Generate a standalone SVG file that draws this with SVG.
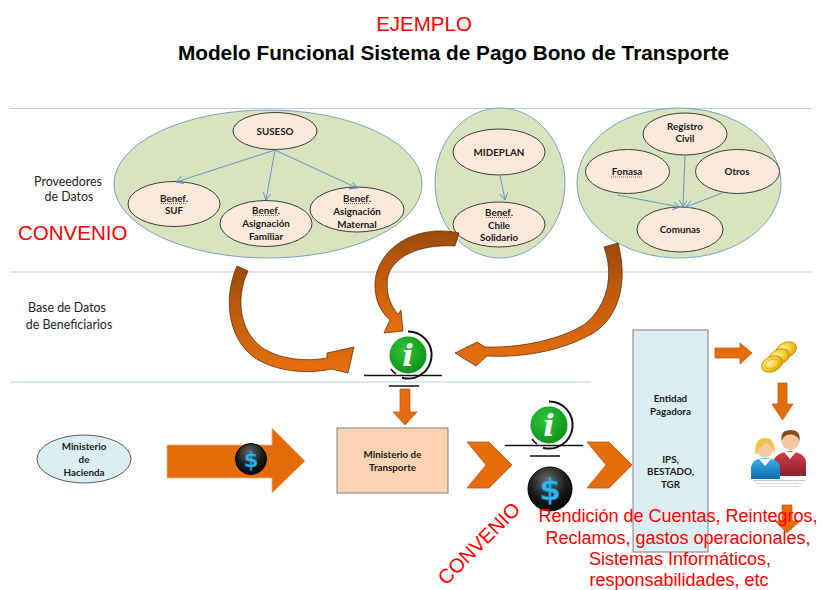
<svg xmlns="http://www.w3.org/2000/svg" width="822" height="590" viewBox="0 0 822 590">
  <style>
    .sep { stroke: #b9cde5; stroke-width: 1.2; }
    .group { fill: #d7e4bd; stroke: #7f9fc5; stroke-width: 1; }
    .entity { fill: #fde9d9; stroke: #3f3f3f; stroke-width: 1; }
    .lbl { font-family: Lato, "Liberation Sans", sans-serif; font-weight: bold; font-size: 9.8px; fill: #1a1a1a; text-anchor: middle; }
    .layer { font-family: Lato, "Liberation Sans", sans-serif; font-size: 12.4px; fill: #222; text-anchor: middle; }
    .red { font-family: "Liberation Sans", Arial, sans-serif; fill: #ff0000; }
    .link { stroke: #5b8cc8; stroke-width: 0.9; fill: none; marker-end: url(#vhead); }
    .block { fill: #e46c0a; stroke: #c55a11; stroke-width: 0.8; }
    .curve { fill: url(#curveGrad); stroke: #4a2405; stroke-width: 0.7; }
    .squig { stroke: #e02020; stroke-width: 0.8; stroke-dasharray: 1 1; fill: none; }
  </style>
  <defs>
    <marker id="vhead" markerUnits="userSpaceOnUse" markerWidth="10" markerHeight="10" refX="7" refY="4" orient="auto">
      <path d="M0,0 L7,4 L0,8" fill="none" stroke="#5b8cc8" stroke-width="0.9"/>
    </marker>
    <linearGradient id="curveGrad" x1="0" y1="0" x2="0" y2="1">
      <stop offset="0" stop-color="#9c4a0c"/>
      <stop offset="0.45" stop-color="#c25c0d"/>
      <stop offset="1" stop-color="#e8700c"/>
    </linearGradient>
    <radialGradient id="infoGreen" cx="0.4" cy="0.35" r="0.7">
      <stop offset="0" stop-color="#33c43a"/>
      <stop offset="1" stop-color="#078f18"/>
    </radialGradient>
    <radialGradient id="coinBlack" cx="0.45" cy="0.3" r="0.75">
      <stop offset="0" stop-color="#6a6a6a"/>
      <stop offset="0.55" stop-color="#1c1c1c"/>
      <stop offset="1" stop-color="#000"/>
    </radialGradient>
    <radialGradient id="gold" cx="0.4" cy="0.35" r="0.7">
      <stop offset="0" stop-color="#fff2a0"/>
      <stop offset="0.6" stop-color="#f5cc2a"/>
      <stop offset="1" stop-color="#d39a0a"/>
    </radialGradient>
    <linearGradient id="blueShirt" x1="0" y1="0" x2="0" y2="1">
      <stop offset="0" stop-color="#3fb0ec"/>
      <stop offset="1" stop-color="#0d6aa8"/>
    </linearGradient>
    <linearGradient id="redShirt" x1="0" y1="0" x2="0" y2="1">
      <stop offset="0" stop-color="#d0404c"/>
      <stop offset="1" stop-color="#8e1f2a"/>
    </linearGradient>

    <!-- information badge: green disc, outer arc and base lines -->
    <g id="infoBadge">
      <path d="M 0,-23.5 A 23.5 23.5 0 1 1 -6,22.7" fill="none" stroke="#111" stroke-width="2"/>
      <path d="M -17,14 A 23 23 0 0 0 -12,19" fill="none" stroke="#111" stroke-width="1.6"/>
      <circle r="19.5" fill="url(#infoGreen)" stroke="#fff" stroke-width="2"/>
      <text x="0" y="11" font-family="'DejaVu Serif', serif" font-weight="bold" font-style="italic" font-size="30" fill="#fff" text-anchor="middle">i</text>
      <line x1="-44" y1="20.5" x2="34" y2="20.5" stroke="#111" stroke-width="1.5"/>
      <line x1="-19" y1="31" x2="11" y2="31" stroke="#111" stroke-width="1.5"/>
    </g>
  </defs>

  <rect width="822" height="590" fill="#ffffff"/>

  <!-- headings -->
  <text class="red" x="424" y="31" font-size="20.5" text-anchor="middle">EJEMPLO</text>
  <text x="453.5" y="60" font-family="'Liberation Sans', Arial, sans-serif" font-weight="bold" font-size="20.8" fill="#000" text-anchor="middle">Modelo Funcional Sistema de Pago Bono de Transporte</text>

  <!-- layer separators -->
  <line class="sep" x1="10" y1="108.5" x2="812" y2="108.5"/>
  <line class="sep" x1="10" y1="272" x2="812" y2="272"/>
  <line class="sep" x1="10" y1="382" x2="591" y2="382"/>

  <!-- layer labels -->
  <text class="layer" x="68" y="186">Proveedores</text>
  <text class="layer" x="69" y="201">de Datos</text>
  <text class="red" x="18" y="240" font-size="20.5">CONVENIO</text>
  <text class="layer" x="67" y="312">Base de Datos</text>
  <text class="layer" x="69" y="329">de Beneficiarios</text>

  <!-- data providers -->
  <g id="grupo-suseso">
    <ellipse class="group" cx="268" cy="184" rx="154" ry="74"/>
  </g>
  <g id="grupo-mideplan">
    <ellipse class="group" cx="500" cy="183" rx="65" ry="75"/>
  </g>
  <g id="grupo-registro">
    <ellipse class="group" cx="679" cy="183" rx="102" ry="75"/>
  </g>

  <g id="suseso">
    <ellipse class="entity" cx="275" cy="131" rx="42" ry="18.5"/>
    <text class="lbl" x="275" y="134.5">SUSESO</text>
  </g>
  <g id="benef-suf">
    <ellipse class="entity" cx="174" cy="204" rx="46" ry="22.5"/>
    <text class="lbl" x="174" y="201.5">Benef.</text>
    <text class="lbl" x="174" y="214">SUF</text>
    <path class="squig" d="M161,203.5 H187"/>
  </g>
  <g id="benef-asig-familiar">
    <ellipse class="entity" cx="266" cy="223.5" rx="46" ry="23"/>
    <text class="lbl" x="266" y="213.5">Benef.</text>
    <text class="lbl" x="266" y="227">Asignación</text>
    <text class="lbl" x="266" y="240">Familiar</text>
    <path class="squig" d="M253,215.5 H279"/>
  </g>
  <g id="benef-asig-maternal">
    <ellipse class="entity" cx="357" cy="209.5" rx="47" ry="22.5"/>
    <text class="lbl" x="357" y="201.5">Benef.</text>
    <text class="lbl" x="357" y="214.5">Asignación</text>
    <text class="lbl" x="357" y="227.5">Maternal</text>
    <path class="squig" d="M344,203.5 H370"/>
  </g>
  <g id="mideplan">
    <ellipse class="entity" cx="499" cy="152" rx="46" ry="23"/>
    <text class="lbl" x="499" y="155.5">MIDEPLAN</text>
  </g>
  <g id="benef-chile-solidario">
    <ellipse class="entity" cx="499" cy="224.5" rx="46" ry="22.5"/>
    <text class="lbl" x="499" y="215.5">Benef.</text>
    <text class="lbl" x="499" y="228.5">Chile</text>
    <text class="lbl" x="499" y="241">Solidario</text>
    <path class="squig" d="M486,217.5 H512"/>
  </g>
  <g id="registro-civil">
    <ellipse class="entity" cx="685" cy="134" rx="42" ry="21"/>
    <text class="lbl" x="685" y="129.5">Registro</text>
    <text class="lbl" x="685" y="142">Civil</text>
  </g>
  <g id="fonasa">
    <ellipse class="entity" cx="627.5" cy="171.5" rx="42" ry="22"/>
    <text class="lbl" x="627" y="175">Fonasa</text>
    <path class="squig" d="M611,177 H643"/>
  </g>
  <g id="otros">
    <ellipse class="entity" cx="737.5" cy="171.5" rx="42" ry="22"/>
    <text class="lbl" x="737" y="175">Otros</text>
  </g>
  <g id="comunas">
    <ellipse class="entity" cx="680" cy="229.5" rx="43" ry="22.5"/>
    <text class="lbl" x="680" y="233">Comunas</text>
  </g>

  <!-- beneficiary data base -->
  <g id="info-base">
    <use href="#infoBadge" x="408" y="355"/>
  </g>

  <!-- payment flow -->
  <g id="ministerio-hacienda">
    <ellipse cx="84" cy="459" rx="47" ry="24" fill="#dbeef4" stroke="#595959" stroke-width="1"/>
    <text class="lbl" x="84" y="450">Ministerio</text>
    <text class="lbl" x="84" y="463">de</text>
    <text class="lbl" x="84" y="476">Hacienda</text>
  </g>
  <g id="ministerio-transporte">
    <rect x="337" y="428" width="111" height="65" fill="#fbd4b4" stroke="#7f7f7f" stroke-width="1"/>
    <text class="lbl" x="392.5" y="458">Ministerio de</text>
    <text class="lbl" x="392.5" y="471">Transporte</text>
  </g>
  <g id="info-pago">
    <use href="#infoBadge" x="549" y="425"/>
  </g>
  <g id="dolar-pago">
    <circle cx="550" cy="489" r="22" fill="url(#coinBlack)" stroke="#000" stroke-width="1"/>
    <text x="550" y="500" font-family="'DejaVu Sans', sans-serif" font-weight="bold" font-size="31" fill="#2fb6ec" stroke="#0b73a8" stroke-width="0.6" text-anchor="middle">$</text>
  </g>
  <g id="entidad-pagadora">
    <rect x="633" y="330" width="75" height="222" fill="#dbeef4" stroke="#7f7f7f" stroke-width="1"/>
    <text class="lbl" x="670.5" y="402" font-size="9.2">Entidad</text>
    <text class="lbl" x="670.5" y="415" font-size="9.2">Pagadora</text>
    <text class="lbl" x="670.5" y="463" font-size="9.2">IPS,</text>
    <text class="lbl" x="670.5" y="475" font-size="9.2">BESTADO,</text>
    <text class="lbl" x="670.5" y="488" font-size="9.2">TGR</text>
  </g>
  <g id="monedas">
    <ellipse cx="786" cy="350" rx="11" ry="7.5" transform="rotate(-25 786 350)" fill="url(#gold)" stroke="#c48a08" stroke-width="0.8"/>
    <ellipse cx="779" cy="357" rx="11" ry="7.5" transform="rotate(-25 779 357)" fill="url(#gold)" stroke="#c48a08" stroke-width="0.8"/>
    <ellipse cx="772" cy="364" rx="11" ry="7.5" transform="rotate(-25 772 364)" fill="url(#gold)" stroke="#c48a08" stroke-width="0.8"/>
    <ellipse cx="772" cy="364" rx="7" ry="4.5" transform="rotate(-25 772 364)" fill="none" stroke="#d9a515" stroke-width="0.7"/>
  </g>
  <g id="beneficiarios">
    <!-- man behind -->
    <path d="M773,476 V463 Q774,453 790,451 Q806,453 806,463 V476 Z" fill="url(#redShirt)"/>
    <path d="M784,452 L790,459 L796,452 Z" fill="#fff"/>
    <circle cx="790.5" cy="441" r="9" fill="#f6c6a0"/>
    <path d="M781.5,441 Q780,430 790.5,430 Q801,430 799.5,441 Q797,434 790.5,434.5 Q784,434 781.5,441 Z" fill="#8a4a1e"/>
    <!-- woman in front -->
    <path d="M751,479 V467 Q752,459 765,458 Q779,459 780,467 V479 Z" fill="url(#blueShirt)"/>
    <path d="M759,459 L765,466 L771,459 Z" fill="#fff"/>
    <circle cx="765" cy="449" r="8.5" fill="#f8cba6"/>
    <path d="M755.5,455 Q754,438 765,438 Q776,438 774.5,455 Q773,445 766,443 Q760,446 758,452 Z" fill="#f2c24b"/>
    <!-- floor reflection -->
    <rect x="753" y="480" width="52" height="1.2" fill="#c8c8c8"/>
    <rect x="756" y="483" width="46" height="1" fill="#d8d8d8"/>
    <rect x="760" y="486" width="38" height="1" fill="#e4e4e4"/>
  </g>

  <!-- connectors -->
  <g id="conectores">
    <line class="link" x1="275" y1="150" x2="176" y2="182"/>
    <line class="link" x1="275" y1="150" x2="266" y2="200"/>
    <line class="link" x1="275" y1="150" x2="357" y2="188"/>
    <line class="link" x1="500" y1="175" x2="505" y2="200"/>
    <line class="link" x1="685" y1="155" x2="683" y2="207"/>
    <line class="link" x1="617" y1="195" x2="680" y2="207"/>
    <line class="link" x1="722" y1="193" x2="686" y2="207"/>

    <!-- curved flows into the beneficiary base -->
    <path class="curve" d="M237,266 C222,300 228,345 262,362 C282,372 310,374 331,369 L348,373 L354,347 L327,353 L327,358 C305,362 282,359 266,350 C241,336 234,300 248,271 Z"/>
    <path class="curve" d="M459,233 C425,225 385,240 376,275 C372,295 380,312 390,320 L384,333 L403,331 L401,310 L398,314 C390,305 385,292 388,276 C394,256 420,244 455,246 Z"/>
    <path class="curve" d="M604,247 C614,275 608,305 585,324 C560,340 520,348 485,347 L477,342 L455,353 L476,366 L487,356 C525,358 565,350 595,332 C620,315 628,280 618,243 Z"/>

    <!-- straight block arrows -->
    <polygon class="block" points="400,389 410,389 410,412 417,412 405,425 393,412 400,412"/>
    <polygon points="167,445 272,445 272,428 305,461 272,493 272,478 167,478" fill="#e36c09" stroke="#f3b183" stroke-width="0.8"/>
    <polygon class="block" points="467,442 489,442 512,465 489,488 467,488 486,465"/>
    <polygon class="block" points="587,442 609,442 632,465 609,488 587,488 606,465"/>
    <polygon class="block" points="715,348 740,348 740,343 752,353 740,364 740,358 715,358"/>
    <polygon class="block" points="778,383 787,383 787,404 793,404 782.5,420 772,404 778,404"/>
    <polygon class="block" points="782,505 792,505 792,521 800,521 787,533 775,521 782,521"/>
  </g>

  <!-- money badge on the funding arrow -->
  <g id="dolar-hacienda">
    <circle cx="251" cy="459" r="15.5" fill="url(#coinBlack)" stroke="#000" stroke-width="1"/>
    <text x="251" y="467" font-family="'DejaVu Sans', sans-serif" font-weight="bold" font-size="21" fill="#2fb6ec" stroke="#0b73a8" stroke-width="0.5" text-anchor="middle">$</text>
  </g>

  <!-- agreement notes -->
  <text class="red" x="446" y="586" font-size="20" transform="rotate(-45 446 586)">CONVENIO</text>
  <g class="red" font-size="18" text-anchor="middle">
    <text x="678" y="522">Rendición de Cuentas, Reintegros,</text>
    <text x="678" y="544">Reclamos, gastos operacionales,</text>
    <text x="680" y="565">Sistemas Informáticos,</text>
    <text x="679" y="586">responsabilidades, etc</text>
  </g>
</svg>
